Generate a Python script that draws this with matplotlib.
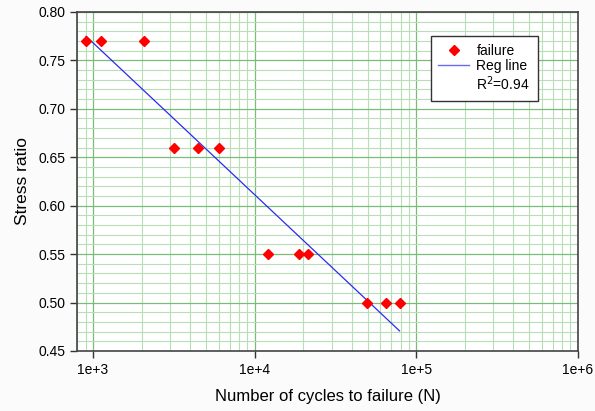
import numpy as np
import matplotlib
matplotlib.use("Agg")
import matplotlib.pyplot as plt
from matplotlib.ticker import LogLocator, FixedLocator, MultipleLocator, FuncFormatter
from matplotlib.lines import Line2D

plt.rcParams['font.family'] = ['Liberation Sans', 'DejaVu Sans']

cycles = [906, 1128, 2060, 3160, 4450, 6000, 12040, 18900, 21400, 49500, 64900, 78900]
stress = [0.77, 0.77, 0.77, 0.66, 0.66, 0.66, 0.55, 0.55, 0.55, 0.50, 0.50, 0.50]
r2_text = "R$^2$=0.94"
x_ticks = [1e3, 1e4, 1e5, 1e6]
x_tick_labels = ["1e+3", "1e+4", "1e+5", "1e+6"]
y_ticks = [0.45, 0.50, 0.55, 0.60, 0.65, 0.70, 0.75, 0.80]

fig = plt.figure(figsize=(5.95, 4.11), dpi=100, facecolor='#fbfbfb')
ax = fig.add_axes([0.130, 0.146, 0.841, 0.825])
ax.set_facecolor('white')

lx = np.log10(cycles)
b, a = np.polyfit(lx, stress, 1)
xl = np.array([min(cycles), max(cycles)])
yl = a + b * np.log10(xl)

ax.set_xscale('log')
ax.set_xlim(800, 1e6)
ax.set_ylim(0.45, 0.80)

ax.xaxis.set_major_locator(FixedLocator(x_ticks))
ax.xaxis.set_major_formatter(FuncFormatter(lambda v, p: x_tick_labels[x_ticks.index(v)] if v in x_ticks else ""))
ax.xaxis.set_minor_locator(LogLocator(base=10, subs=np.arange(2, 10)))
ax.xaxis.set_minor_formatter(FuncFormatter(lambda v, p: ""))
ax.yaxis.set_major_locator(FixedLocator(y_ticks))
ax.yaxis.set_major_formatter(FuncFormatter(lambda v, p: f"{v:.2f}"))
ax.yaxis.set_minor_locator(MultipleLocator(0.01))

ax.grid(True, which='minor', color='#b8deb8', linewidth=0.8)
ax.grid(True, which='major', color='#78bc78', linewidth=0.9)
ax.set_axisbelow(True)

ax.tick_params(axis='both', which='major', direction='out', length=5, width=1, color='#333333', labelsize=10)
ax.tick_params(axis='both', which='minor', length=0)
ax.tick_params(axis='x', pad=4)
for s in ax.spines.values():
    s.set_color('#444444')
    s.set_linewidth(1.2)

ax.plot(cycles, stress, linestyle='none', marker='D', markersize=5, color='#ff0000', label='failure', zorder=3)
ax.plot(xl, yl, color='#2a2af0', linewidth=0.9, label='Reg line', zorder=2)

handles = [Line2D([], [], linestyle='none', marker='D', markersize=5, color='#ff0000'),
           Line2D([], [], color='#6a6af0', linewidth=1),
           Line2D([], [], linestyle='none')]
leg = ax.legend(handles, ['failure', 'Reg line', r2_text], loc='upper left',
                bbox_to_anchor=(0.706, 0.929), fontsize=10, frameon=True, fancybox=False,
                handlelength=2.2, handletextpad=0.55, labelspacing=0.1, borderpad=0.55,
                borderaxespad=0, framealpha=1)
leg.get_frame().set_edgecolor('#333333')
leg.get_frame().set_linewidth(1)

ax.set_xlabel('Number of cycles to failure (N)', fontsize=12, labelpad=8)
ax.set_ylabel('Stress ratio', fontsize=12.5, labelpad=6)

fig.savefig('out.png', dpi=100, facecolor=fig.get_facecolor())
